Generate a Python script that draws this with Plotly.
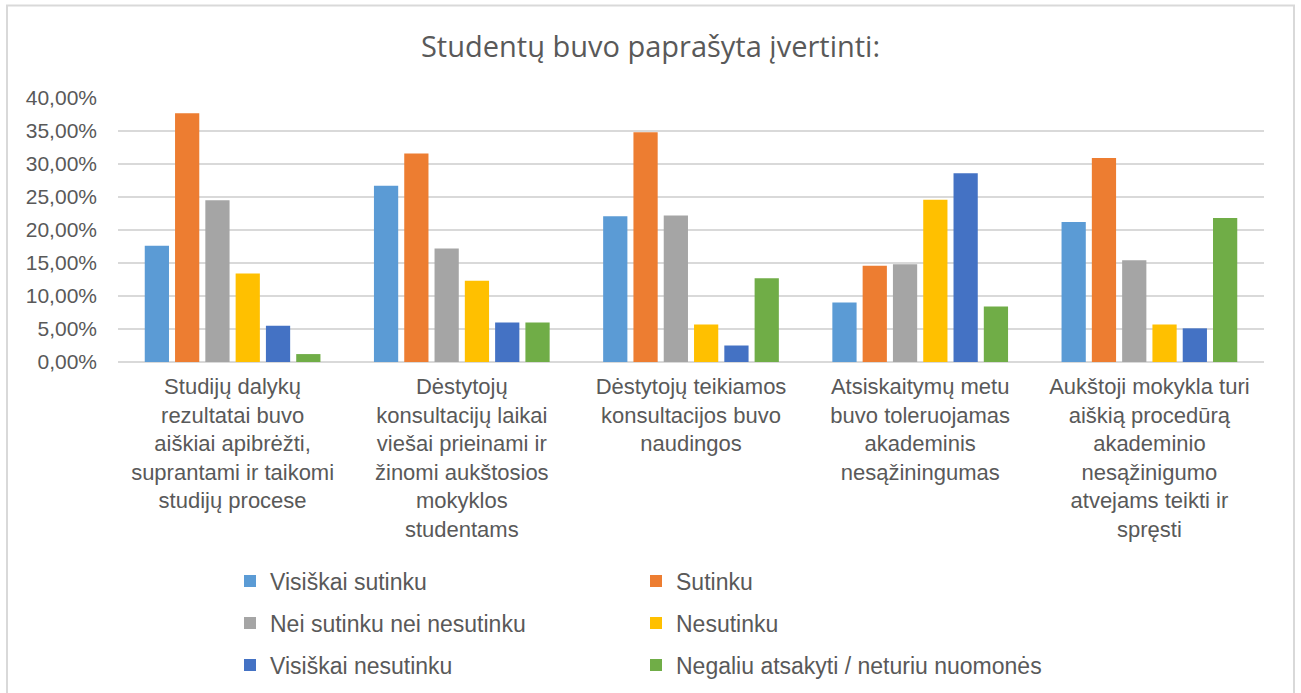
import plotly.graph_objects as go

# ---- data ----
categories = [
    "Studijų dalykų<br>rezultatai buvo<br>aiškiai apibrėžti,<br>suprantami ir taikomi<br>studijų procese",
    "Dėstytojų<br>konsultacijų laikai<br>viešai prieinami ir<br>žinomi aukštosios<br>mokyklos<br>studentams",
    "Dėstytojų teikiamos<br>konsultacijos buvo<br>naudingos",
    "Atsiskaitymų metu<br>buvo toleruojamas<br>akademinis<br>nesąžiningumas",
    "Aukštoji mokykla turi<br>aiškią procedūrą<br>akademinio<br>nesąžinigumo<br>atvejams teikti ir<br>spręsti",
]
series_names = [
    "Visiškai sutinku",
    "Sutinku",
    "Nei sutinku nei nesutinku",
    "Nesutinku",
    "Visiškai nesutinku",
    "Negaliu atsakyti / neturiu nuomonės",
]
visiskai_sutinku = [0.176, 0.267, 0.221, 0.090, 0.212]
sutinku = [0.377, 0.316, 0.348, 0.146, 0.309]
nei_sutinku_nei_nesutinku = [0.245, 0.172, 0.222, 0.148, 0.154]
nesutinku = [0.134, 0.123, 0.057, 0.246, 0.057]
visiskai_nesutinku = [0.055, 0.060, 0.025, 0.286, 0.051]
negaliu_atsakyti = [0.012, 0.060, 0.127, 0.084, 0.218]
series_values = [visiskai_sutinku, sutinku, nei_sutinku_nei_nesutinku,
                 nesutinku, visiskai_nesutinku, negaliu_atsakyti]
colors = ["#5B9BD5", "#ED7D31", "#A5A5A5", "#FFC000", "#4472C4", "#70AD47"]

title_text = "Studentų buvo paprašyta įvertinti:"

# ---- layout constants ----
W, H = 1301, 693
ML, MR, MT, MB = 118, 37, 98, 331
PW = W - ML - MR
PH = H - MT - MB
TEXT = "#595959"
GRID = "#D9D9D9"
FONT = "Liberation Sans, Arial, sans-serif"

legend_ids = ["legend", "legend", "legend2", "legend2", "legend3", "legend3"]

fig = go.Figure()
for name, vals, col, lg in zip(series_names, series_values, colors, legend_ids):
    fig.add_trace(go.Bar(
        x=categories, y=vals, name=name, marker_color=col,
        marker_line_width=0, legend=lg,
    ))

def px_to_paper_x(px):
    return (px - ML) / PW

def px_to_paper_y(py):
    return (H - MB - py) / PH

legend_common = dict(
    orientation="h", xanchor="left", yanchor="middle",
    font=dict(family=FONT, size=23, color=TEXT),
    entrywidth=361, entrywidthmode="pixels",
    bgcolor="rgba(0,0,0,0)", borderwidth=0, itemclick=False,
)
row_centers = [581, 623, 665]
legend_x = px_to_paper_x(230)

fig.update_layout(
    width=W, height=H,
    margin=dict(l=ML, r=MR, t=MT, b=MB, autoexpand=False),
    paper_bgcolor="white", plot_bgcolor="white",
    separators=", ",
    barmode="group", bargap=0.207, bargroupgap=0.2,
    title=dict(
        text=title_text, x=0.5, xref="container", xanchor="center",
        y=1 - 47 / H, yref="container", yanchor="middle",
        font=dict(family="Open Sans, sans-serif", size=29, color=TEXT),
    ),
    legend=dict(x=legend_x, y=px_to_paper_y(row_centers[0]), **legend_common),
    legend2=dict(x=legend_x, y=px_to_paper_y(row_centers[1]), **legend_common),
    legend3=dict(x=legend_x, y=px_to_paper_y(row_centers[2]), **legend_common),
    xaxis=dict(
        type="category", showgrid=False, ticks="", showline=False,
        tickfont=dict(family=FONT, size=22, color=TEXT),
        ticklabelstandoff=9, tickangle=0,
    ),
    yaxis=dict(
        range=[0, 0.4], dtick=0.05, tickformat=".2%",
        showgrid=True, gridcolor=GRID, gridwidth=1.5,
        zeroline=True, zerolinecolor=GRID, zerolinewidth=1.5,
        showline=False, ticks="",
        tickfont=dict(family=FONT, size=21, color=TEXT),
        ticklabelstandoff=20,
    ),
    shapes=[dict(
        type="rect", xref="paper", yref="paper",
        x0=px_to_paper_x(7), x1=px_to_paper_x(1294),
        y0=px_to_paper_y(710), y1=px_to_paper_y(5.5),
        line=dict(color=GRID, width=2), fillcolor="rgba(0,0,0,0)", layer="below",
    )],
)

fig.write_html("out.html", config={"displayModeBar": False},
               post_script="document.body.style.margin='0px';")
